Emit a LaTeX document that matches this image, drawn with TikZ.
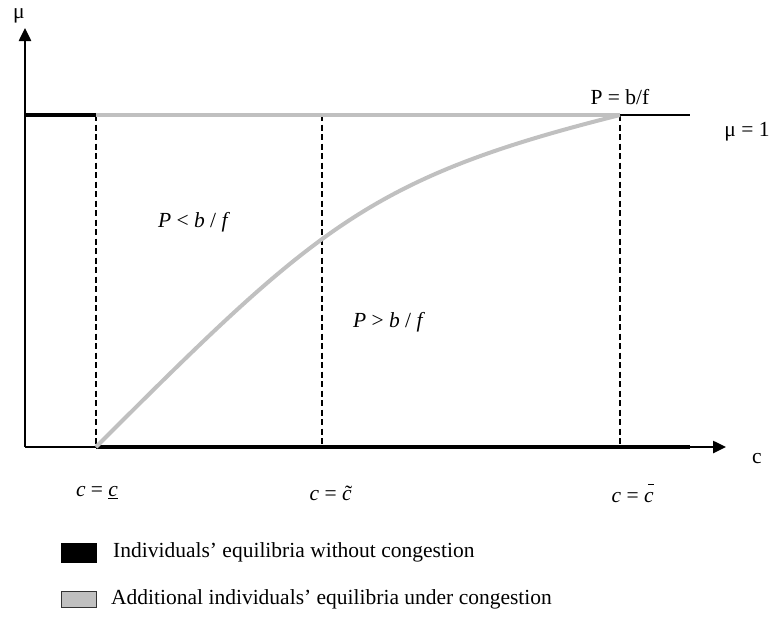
\documentclass[tikz,border=0pt]{standalone}
\usepackage{fontspec}
\setmainfont{Liberation Serif}
\usetikzlibrary{arrows.meta}
\definecolor{eqgray}{RGB}{192,192,192}
\newcommand\ctilde{\makebox[0pt][l]{\textit{c}}\kern0.14em\char"02DC}
\newcommand\cbar{\makebox[0pt][l]{\textit{c}}\kern0.2em\raisebox{0.8em}{\rule{0.28em}{0.05em}}}
\begin{document}
\begin{tikzpicture}[x=1pt,y=-1pt,
  lbl/.style={font=\fontsize{21.5}{25}\selectfont, inner sep=0pt},
  thickblack/.style={line width=4.5pt, black},
  thickgray/.style={line width=4pt, eqgray},
  axisline/.style={line width=2.5pt, black},
  thinline/.style={line width=1.5pt, black},
  guide/.style={line width=1.4pt, black, dash pattern=on 6pt off 3.5pt},
  tip/.style={-{Triangle[length=13pt,width=12pt]}}
]
\useasboundingbox (0,0) rectangle (770,616);
% coordinates
\coordinate (O) at (25,447);
\coordinate (Ytip) at (25,28);
\coordinate (Xtip) at (726,447);
\coordinate (Xthin) at (690,447);
\coordinate (A) at (96,447);
\coordinate (B) at (322,447);
\coordinate (C) at (620,447);
\coordinate (T0) at (25,115);
\coordinate (TA) at (96,115);
\coordinate (TB) at (322,115);
\coordinate (TC) at (620,115);
\coordinate (TE) at (690,115);
% dashed guides
\draw[guide] (TA) -- (A);
\draw[guide] (TB) -- (B);
\draw[guide] (TC) -- (C);
% axes
\draw[axisline,tip] (O) -- (Ytip);
\draw[axisline,tip] (O) -- (Xtip);
\draw[thickblack] (A) -- (Xthin);
% top line
\draw[thickblack] (T0) -- (TA);
\draw[thickgray] (TA) -- (TC);
\draw[thinline] (TC) -- (TE);
% curve
\draw[thickgray] (A) .. controls (316,227) and (370,177.5) .. (TC);
% labels
\node[lbl] (mu) at (19,16) {μ};
\node[lbl] (cax) at (757,459) {c};
\node[lbl] (mu1) at (747,132) {μ = 1};
\node[lbl] (Pbf) at (620,97) {P = b/f};
\node[lbl] (Pless) at (194,222) {\textit{P} < \textit{b} / \textit{f}};
\node[lbl] (Pgreat) at (389,322) {\textit{P} > \textit{b} / \textit{f}};
\node[lbl] (cl) at (97,493) {\textit{c} = \underline{\textit{c}}};
\node[lbl] (ct) at (331,493) {\textit{c} = \ctilde};
\node[lbl] (cb) at (633,493) {\textit{c} = \cbar};
% legend
\node[draw=black, fill=black, minimum width=35pt, minimum height=19pt, inner sep=0pt, anchor=north west] (lg1) at (61,543) {};
\node[draw=black!80, line width=1pt, fill=eqgray, minimum width=35pt, minimum height=16pt, inner sep=0pt, anchor=north west] (lg2) at (61,591) {};
\node[lbl, anchor=west] (lt1) at (113,552) {Individuals’ equilibria without congestion};
\node[lbl, anchor=west] (lt2) at (111,599) {Additional individuals’ equilibria under congestion};
\end{tikzpicture}
\end{document}
